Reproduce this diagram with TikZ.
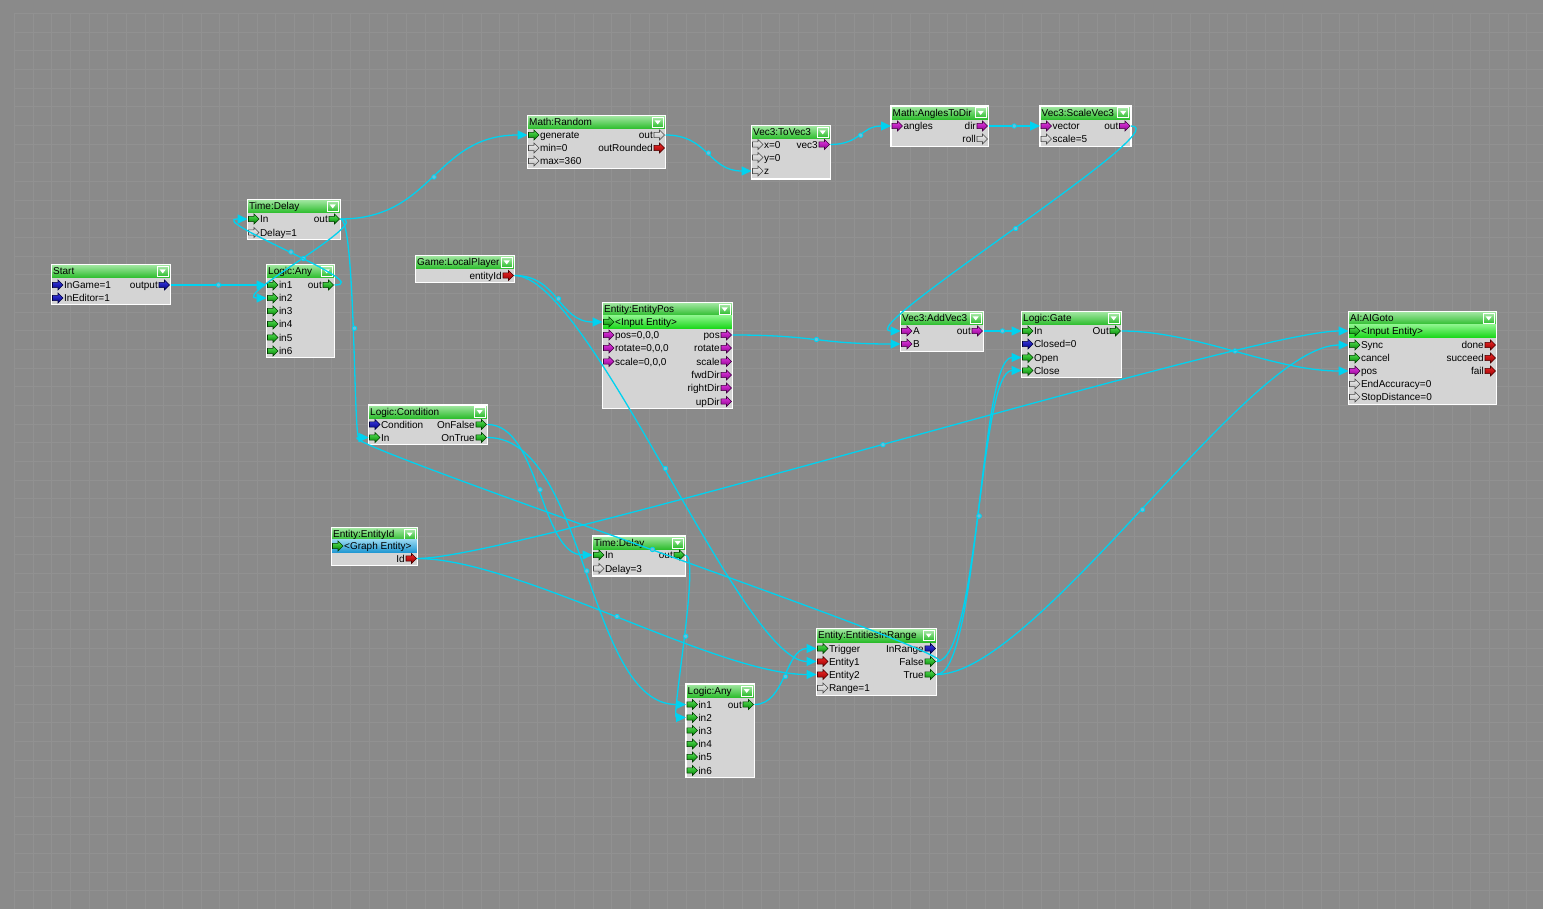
\documentclass[tikz,border=0pt]{standalone}
\usepackage{fontspec}
\setmainfont{Liberation Sans}
\usetikzlibrary{arrows.meta,calc}
\definecolor{bgc}{RGB}{138,138,138}
\definecolor{gridc}{RGB}{145,145,145}
\definecolor{bodyc}{RGB}{212,212,212}
\definecolor{hdT}{RGB}{165,232,165}
\definecolor{hdB}{RGB}{42,188,42}
\definecolor{shT}{RGB}{140,245,140}
\definecolor{shB}{RGB}{25,215,25}
\definecolor{geT}{RGB}{150,215,240}
\definecolor{geB}{RGB}{30,150,210}
\definecolor{wirec}{RGB}{0,210,240}
\definecolor{dotc}{RGB}{110,190,215}
\definecolor{pgT}{RGB}{90,230,90}
\definecolor{pgB}{RGB}{0,130,0}
\definecolor{pgE}{RGB}{0,60,0}
\definecolor{pbT}{RGB}{60,60,230}
\definecolor{pbB}{RGB}{0,0,130}
\definecolor{pbE}{RGB}{0,0,60}
\definecolor{prT}{RGB}{240,40,40}
\definecolor{prB}{RGB}{150,0,0}
\definecolor{prE}{RGB}{70,0,0}
\definecolor{pmT}{RGB}{230,60,230}
\definecolor{pmB}{RGB}{140,0,140}
\definecolor{pmE}{RGB}{60,0,60}
\definecolor{pwT}{RGB}{240,240,240}
\definecolor{pwB}{RGB}{185,185,185}
\definecolor{pwE}{RGB}{70,70,70}
\tikzset{
  lbl/.style={inner sep=0pt, text=black},
  fgbody/.style={fill=bodyc, inner sep=0pt, outer sep=0pt},
  wire/.style={draw=wirec, line width=1.3pt, -{Triangle[length=10pt,width=9pt]}},
  wdot/.style={circle, draw=wirec, fill=dotc, line width=0.8pt, inner sep=0pt, minimum size=4.5pt},
  pgreen/.style={top color=pgT, bottom color=pgB, draw=pgE, line width=0.6pt},
  pblue/.style={top color=pbT, bottom color=pbB, draw=pbE, line width=0.6pt},
  pred/.style={top color=prT, bottom color=prB, draw=prE, line width=0.6pt},
  pmag/.style={top color=pmT, bottom color=pmB, draw=pmE, line width=0.6pt},
  pgray/.style={top color=pwT, bottom color=pwB, draw=pwE, line width=0.6pt},
}
% port arrow shape: x, y, style
\newcommand{\pshape}[3]{%
  \path[#3] (#1,#2-2.6) -- (#1+5.5,#2-2.6) -- (#1+5.5,#2-5) -- (#1+10.5,#2) -- (#1+5.5,#2+5) -- (#1+5.5,#2+2.6) -- (#1,#2+2.6) -- cycle;}
% input port: name, xL, y, style, label
\newcommand{\inport}[5]{%
  \coordinate (#1) at (#2,#3);
  \pshape{#2+1}{#3}{#4}
  \node[lbl, anchor=base west] at (#2+12.3,#3+3.6) {#5};}
% output port: name, xR, y, style, label
\newcommand{\outport}[5]{%
  \coordinate (#1) at (#2,#3);
  \pshape{#2-11.5}{#3}{#4}
  \node[lbl, anchor=base east] at (#2-12.5,#3+3.6) {#5};}
% flow node: name, xL, yT, xR, yB, title
\newcommand{\fgnode}[6]{%
  \node[fgbody, anchor=north west, minimum width={(#4-#2)*1pt}, minimum height={(#5-#3)*1pt}] (#1) at (#2,#3) {};
  \path[top color=hdT, bottom color=hdB] (#2,#3) rectangle (#4,#3+13.5);
  \draw[white, line width=1.2pt] (#1.north west) rectangle (#1.south east);
  \node[lbl, anchor=base west] at (#2+1.5,#3+10.4) {#6};
  \path[draw=white, line width=1pt, top color=hdT, bottom color=hdB] (#4-13.3,#3+2) rectangle (#4-2.3,#3+12);
  \fill[white] (#4-10.8,#3+5) -- (#4-4.8,#3+5) -- (#4-7.8,#3+9) -- cycle;}
% sub header: name, xL, yTop, xR, top color, bottom color, label
\newcommand{\subhd}[7]{%
  \path[top color=#5, bottom color=#6] (#2+0.6,#3) rectangle (#4-0.6,#3+13);
  \coordinate (#1) at (#2,#3+6.5);
  \pshape{#2+1}{#3+6.5}{pgreen}
  \node[lbl, anchor=base west] at (#2+12.5,#3+10.1) {#7};}
% wire: from, to, control offset
\newcommand{\wire}[3]{%
  \draw[wire] (#1) .. controls ($(#1)+(#3,0)$) and ($(#2)-(#3,0)$) .. (#2) node[wdot,pos=0.5]{};}
\begin{document}
\begin{tikzpicture}[x=1pt,y=-1pt,font=\fontsize{10}{12}\selectfont]
\useasboundingbox (0,0) rectangle (1543,909);
\fill[bgc] (0,0) rectangle (1543,909);
\foreach \i in {0,...,81} \draw[gridc, line width=0.8pt] (14.3+18.67*\i,13.3) -- (14.3+18.67*\i,909);
\foreach \j in {0,...,47} \draw[gridc, line width=0.8pt] (14.3,13.3+18.67*\j) -- (1543,13.3+18.67*\j);

% Start
\fgnode{start}{51.5}{264.5}{170.5}{304.5}{Start}
\inport{start-ig}{51.5}{285}{pblue}{InGame=1}
\inport{start-ie}{51.5}{298}{pblue}{InEditor=1}
\outport{start-out}{170.5}{285}{pblue}{output}

% Logic:Any (upper)
\fgnode{anya}{266.5}{264.5}{334.5}{357.5}{Logic:Any}
\inport{anya-in1}{266.5}{285}{pgreen}{in1}
\inport{anya-in2}{266.5}{298}{pgreen}{in2}
\inport{anya-in3}{266.5}{311}{pgreen}{in3}
\inport{anya-in4}{266.5}{324}{pgreen}{in4}
\inport{anya-in5}{266.5}{337.5}{pgreen}{in5}
\inport{anya-in6}{266.5}{351}{pgreen}{in6}
\outport{anya-out}{334.5}{285}{pgreen}{out}

% Time:Delay (upper)
\fgnode{dla}{247.5}{199.5}{340.5}{239.5}{Time:Delay}
\inport{dla-in}{247.5}{219}{pgreen}{In}
\inport{dla-d}{247.5}{232.5}{pgray}{Delay=1}
\outport{dla-out}{340.5}{219}{pgreen}{out}

% Math:Random
\fgnode{rnd}{527.5}{115.5}{665.5}{168.5}{Math:Random}
\inport{rnd-gen}{527.5}{135}{pgreen}{generate}
\inport{rnd-min}{527.5}{148}{pgray}{min=0}
\inport{rnd-max}{527.5}{161}{pgray}{max=360}
\outport{rnd-out}{665.5}{135}{pgray}{out}
\outport{rnd-outr}{665.5}{148}{pred}{outRounded}

% Vec3:ToVec3
\fgnode{tov}{751.5}{125.5}{830.5}{179}{Vec3:ToVec3}
\inport{tov-x}{751.5}{144.5}{pgray}{x=0}
\inport{tov-y}{751.5}{157.5}{pgray}{y=0}
\inport{tov-z}{751.5}{171}{pgray}{z}
\outport{tov-out}{830.5}{144.5}{pmag}{vec3}

% Math:AnglesToDir
\fgnode{ang}{891}{106}{988.5}{146.5}{Math:AnglesToDir}
\inport{ang-in}{891}{126}{pmag}{angles}
\outport{ang-dir}{988.5}{126}{pmag}{dir}
\outport{ang-roll}{988.5}{139}{pgray}{roll}

% Vec3:ScaleVec3
\fgnode{scl}{1040}{106}{1131}{146.5}{Vec3:ScaleVec3}
\inport{scl-vec}{1040}{126}{pmag}{vector}
\inport{scl-s}{1040}{139}{pgray}{scale=5}
\outport{scl-out}{1131}{126}{pmag}{out}

% Game:LocalPlayer
\fgnode{lp}{415.5}{255.5}{514.5}{282.5}{Game:LocalPlayer}
\outport{lp-id}{514.5}{275.5}{pred}{entityId}

% Entity:EntityPos
\fgnode{epos}{602.5}{302.5}{732.5}{408.5}{Entity:EntityPos}
\subhd{epos-ent}{602.5}{315.5}{732.5}{shT}{shB}{<Input Entity>}
\inport{epos-ip}{602.5}{335}{pmag}{pos=0,0,0}
\inport{epos-ir}{602.5}{348}{pmag}{rotate=0,0,0}
\inport{epos-is}{602.5}{361.5}{pmag}{scale=0,0,0}
\outport{epos-pos}{732.5}{335}{pmag}{pos}
\outport{epos-rot}{732.5}{348}{pmag}{rotate}
\outport{epos-scl}{732.5}{361.5}{pmag}{scale}
\outport{epos-fwd}{732.5}{375}{pmag}{fwdDir}
\outport{epos-right}{732.5}{388}{pmag}{rightDir}
\outport{epos-up}{732.5}{401.5}{pmag}{upDir}

% Logic:Condition
\fgnode{cond}{368.5}{405}{487.5}{444.5}{Logic:Condition}
\inport{cond-c}{368.5}{424.5}{pblue}{Condition}
\inport{cond-in}{368.5}{437.5}{pgreen}{In}
\outport{cond-f}{487.5}{424.5}{pgreen}{OnFalse}
\outport{cond-t}{487.5}{437.5}{pgreen}{OnTrue}

% Vec3:AddVec3
\fgnode{add}{900.5}{311.5}{983.5}{351.5}{Vec3:AddVec3}
\inport{add-a}{900.5}{331}{pmag}{A}
\inport{add-b}{900.5}{344}{pmag}{B}
\outport{add-out}{983.5}{331}{pmag}{out}

% Logic:Gate
\fgnode{gate}{1021.5}{311.5}{1121.5}{377.5}{Logic:Gate}
\inport{gate-in}{1021.5}{331}{pgreen}{In}
\inport{gate-cl}{1021.5}{344}{pblue}{Closed=0}
\inport{gate-open}{1021.5}{357.5}{pgreen}{Open}
\inport{gate-close}{1021.5}{370.5}{pgreen}{Close}
\outport{gate-out}{1121.5}{331}{pgreen}{Out}

% AI:AIGoto
\fgnode{ai}{1348.5}{311.5}{1496.5}{404.5}{AI:AIGoto}
\subhd{ai-ent}{1348.5}{324.5}{1496.5}{shT}{shB}{<Input Entity>}
\inport{ai-sync}{1348.5}{345}{pgreen}{Sync}
\inport{ai-cancel}{1348.5}{358}{pgreen}{cancel}
\inport{ai-pos}{1348.5}{371}{pmag}{pos}
\inport{ai-ea}{1348.5}{384}{pgray}{EndAccuracy=0}
\inport{ai-sd}{1348.5}{397}{pgray}{StopDistance=0}
\outport{ai-done}{1496.5}{345}{pred}{done}
\outport{ai-succ}{1496.5}{358}{pred}{succeed}
\outport{ai-fail}{1496.5}{371}{pred}{fail}

% Entity:EntityId
\fgnode{eid}{331.5}{527.5}{417.5}{565.5}{Entity:EntityId}
\subhd{eid-ent}{331.5}{539.5}{417.5}{geT}{geB}{<Graph Entity>}
\outport{eid-id}{417.5}{558.5}{pred}{Id}

% Time:Delay (lower)
\fgnode{dlb}{592.5}{536}{685.5}{576}{Time:Delay}
\inport{dlb-in}{592.5}{555}{pgreen}{In}
\inport{dlb-d}{592.5}{568.5}{pgray}{Delay=3}
\outport{dlb-out}{685.5}{555}{pgreen}{out}

% Entity:EntitiesInRange
\fgnode{eir}{816.5}{628.5}{936.5}{695.5}{Entity:EntitiesInRange}
\inport{eir-trig}{816.5}{648.5}{pgreen}{Trigger}
\inport{eir-e1}{816.5}{661.5}{pred}{Entity1}
\inport{eir-e2}{816.5}{674.5}{pred}{Entity2}
\inport{eir-r}{816.5}{688}{pgray}{Range=1}
\outport{eir-in}{936.5}{648.5}{pblue}{InRange}
\outport{eir-f}{936.5}{661.5}{pgreen}{False}
\outport{eir-t}{936.5}{674.5}{pgreen}{True}

% Logic:Any (lower)
\fgnode{anyb}{686}{684}{754.5}{777.5}{Logic:Any}
\inport{anyb-in1}{686}{704.5}{pgreen}{in1}
\inport{anyb-in2}{686}{717.5}{pgreen}{in2}
\inport{anyb-in3}{686}{730.5}{pgreen}{in3}
\inport{anyb-in4}{686}{744}{pgreen}{in4}
\inport{anyb-in5}{686}{757}{pgreen}{in5}
\inport{anyb-in6}{686}{770.5}{pgreen}{in6}
\outport{anyb-out}{754.5}{704.5}{pgreen}{out}

% connectors
\wire{start-out}{anya-in1}{48}
\wire{dla-out}{anya-in2}{37}
\wire{anya-out}{dla-in}{43}
\wire{dla-out}{rnd-gen}{93}
\wire{dla-out}{cond-in}{15}
\wire{rnd-out}{tov-z}{43}
\wire{tov-out}{ang-in}{30}
\wire{ang-dir}{scl-vec}{26}
\wire{scl-out}{add-a}{50}
\wire{epos-pos}{add-b}{84}
\wire{add-out}{gate-in}{19}
\wire{gate-out}{ai-pos}{75}
\wire{lp-id}{epos-ent}{44}
\wire{lp-id}{eir-e1}{75}
\wire{eid-id}{eir-e2}{100}
\wire{eid-id}{ai-ent}{100}
\wire{cond-f}{dlb-in}{52}
\wire{cond-t}{anyb-in1}{99}
\wire{dlb-out}{anyb-in2}{15}
\wire{anyb-out}{eir-trig}{31}
\wire{eir-f}{cond-in}{50}
\wire{eir-f}{gate-close}{42}
\wire{eir-t}{gate-open}{42}
\wire{eir-t}{ai-sync}{100}
\end{tikzpicture}
\end{document}
